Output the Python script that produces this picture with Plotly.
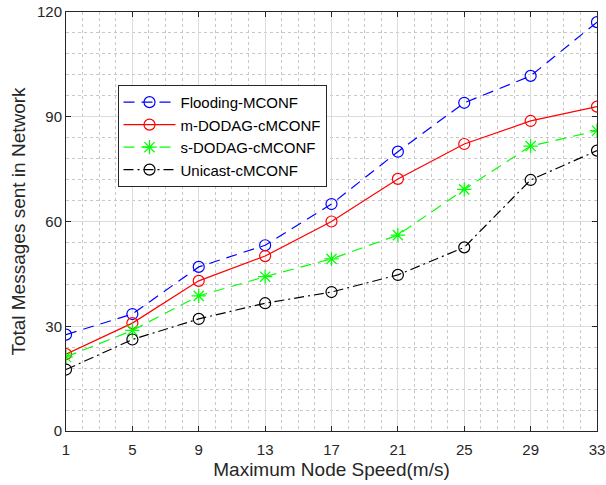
import plotly.graph_objects as go

speed = [1, 5, 9, 13, 17, 21, 25, 29, 33]
flooding = [27.6, 33.5, 47.0, 53.2, 65.0, 80.0, 94.0, 101.7, 117.1]
m_dodag = [22.0, 30.9, 43.0, 50.1, 60.0, 72.2, 82.2, 88.8, 92.9]
s_dodag = [21.2, 28.8, 38.7, 44.2, 49.3, 56.1, 69.2, 81.6, 86.0]
unicast = [17.6, 26.2, 32.1, 36.6, 39.8, 44.7, 52.6, 71.9, 80.3]

x_ticks = [1, 5, 9, 13, 17, 21, 25, 29, 33]
y_ticks = [0, 30, 60, 90, 120]

series = [
    ("Flooding-MCONF", flooding, "#0000ff", "11px,7px", "circle-open"),
    ("m-DODAG-cMCONF", m_dodag, "#ff0000", "solid", "circle-open"),
    ("s-DODAG-cMCONF", s_dodag, "#00ff00", "11px,7px", "asterisk-open"),
    ("Unicast-cMCONF", unicast, "#000000", "10px,4px,2px,4px", "circle-open"),
]

FONT = "Liberation Sans, Arial, sans-serif"

fig = go.Figure()
for name, vals, col, dash, sym in series:
    fig.add_trace(go.Scatter(
        x=speed, y=vals, name=name, mode="lines+markers",
        line=dict(color=col, width=1.2, dash=dash),
        marker=dict(symbol=sym, size=11 if sym != "asterisk-open" else 12,
                    color=col, line=dict(color=col, width=1.2)),
    ))

axis_common = dict(
    showline=True, linecolor="#262626", linewidth=1, mirror="ticks",
    ticks="inside", ticklen=5, tickcolor="#262626",
    showgrid=True, gridcolor="#dcdcdc", gridwidth=1,
    zeroline=False, automargin=False,
    tickfont=dict(family=FONT, size=15, color="#262626"),
)

fig.update_xaxes(
    **axis_common, range=[1, 33], tickvals=x_ticks, ticklabelstandoff=5,
    minor=dict(dtick=1, tick0=1, showgrid=True, gridcolor="#c8c8c8", griddash="dot", gridwidth=1),
    title=dict(text="Maximum Node Speed(m/s)", standoff=5,
               font=dict(family=FONT, size=19, color="#262626")),
)
fig.update_yaxes(
    **axis_common, range=[0, 120], tickvals=y_ticks,
    minor=dict(dtick=6, tick0=0, showgrid=True, gridcolor="#c8c8c8", griddash="dot", gridwidth=1),
    title=dict(text="Total Messages sent in Network", standoff=6,
               font=dict(family=FONT, size=19, color="#262626")),
)

fig.update_layout(
    width=606, height=485,
    margin=dict(l=66, r=9, t=12, b=54),
    plot_bgcolor="white", paper_bgcolor="white",
    legend=dict(
        x=0.097, y=0.826, xanchor="left", yanchor="top",
        bgcolor="white", bordercolor="#262626", borderwidth=1,
        font=dict(family=FONT, size=15, color="#000000"),
        tracegroupgap=0, itemwidth=52,
    ),
)

fig.write_html("out.html", config={"displayModeBar": False},
               post_script="document.body.style.margin='0';document.body.style.overflow='hidden';")
